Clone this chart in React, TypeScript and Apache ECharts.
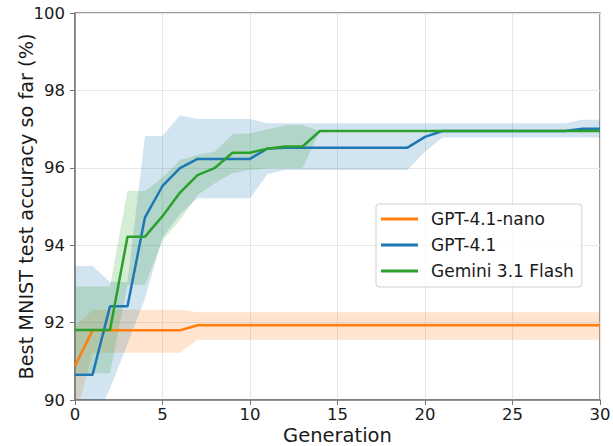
import React, { useEffect, useRef } from "react";
import * as echarts from "echarts";

const generations = Array.from({ length: 31 }, (_, i) => i);

const nanoMean = [90.88, 91.8, 91.8, 91.8, 91.8, 91.8, 91.8, 91.93, 91.93, 91.93, 91.93, 91.93, 91.93, 91.93, 91.93, 91.93, 91.93, 91.93, 91.93, 91.93, 91.93, 91.93, 91.93, 91.93, 91.93, 91.93, 91.93, 91.93, 91.93, 91.93, 91.93];
const nanoUpper = [91.9, 92.33, 92.33, 92.33, 92.33, 92.33, 92.33, 92.27, 92.27, 92.27, 92.27, 92.27, 92.27, 92.27, 92.27, 92.27, 92.27, 92.27, 92.27, 92.27, 92.27, 92.27, 92.27, 92.27, 92.27, 92.27, 92.27, 92.27, 92.27, 92.27, 92.27];
const nanoLower = [89.5, 91.22, 91.22, 91.22, 91.22, 91.22, 91.22, 91.56, 91.56, 91.56, 91.56, 91.56, 91.56, 91.56, 91.56, 91.56, 91.56, 91.56, 91.56, 91.56, 91.56, 91.56, 91.56, 91.56, 91.56, 91.56, 91.56, 91.56, 91.56, 91.56, 91.56];

const gpt41Mean = [90.65, 90.65, 92.42, 92.42, 94.72, 95.53, 95.99, 96.23, 96.23, 96.23, 96.23, 96.5, 96.52, 96.52, 96.52, 96.52, 96.52, 96.52, 96.52, 96.52, 96.8, 96.95, 96.95, 96.95, 96.95, 96.95, 96.95, 96.95, 96.95, 97.01, 97.01];
const gpt41Upper = [93.46, 93.46, 93.05, 93.05, 96.82, 96.82, 97.36, 97.26, 97.26, 97.26, 97.26, 97.15, 97.15, 97.15, 97.15, 97.15, 97.15, 97.15, 97.15, 97.15, 97.15, 97.15, 97.15, 97.15, 97.15, 97.15, 97.15, 97.15, 97.15, 97.24, 97.24];
const gpt41Lower = [88.6, 89.3, 90.3, 91.45, 92.62, 94.2, 94.8, 95.21, 95.21, 95.21, 95.21, 95.84, 95.94, 95.94, 95.94, 95.94, 95.94, 95.94, 95.94, 95.94, 96.42, 96.78, 96.78, 96.78, 96.78, 96.78, 96.78, 96.78, 96.78, 96.78, 96.78];

const geminiMean = [91.81, 91.81, 91.81, 94.22, 94.22, 94.75, 95.36, 95.81, 96.0, 96.39, 96.39, 96.49, 96.55, 96.55, 96.95, 96.95, 96.95, 96.95, 96.95, 96.95, 96.95, 96.95, 96.95, 96.95, 96.95, 96.95, 96.95, 96.95, 96.95, 96.95, 96.95];
const geminiUpper = [92.93, 92.93, 92.93, 95.41, 95.4, 95.75, 96.2, 96.33, 96.42, 96.87, 96.89, 96.99, 97.1, 97.1, 96.95, 96.95, 96.95, 96.95, 96.95, 96.95, 96.95, 96.95, 96.95, 96.95, 96.95, 96.95, 96.95, 96.95, 96.95, 96.95, 96.95];
const geminiLower = [90.69, 90.69, 90.69, 92.97, 92.97, 94.12, 94.65, 95.3, 95.6, 95.86, 95.94, 95.99, 95.99, 95.99, 96.95, 96.95, 96.95, 96.95, 96.95, 96.95, 96.95, 96.95, 96.95, 96.95, 96.95, 96.95, 96.95, 96.95, 96.95, 96.95, 96.95];

const seriesNames = ["GPT-4.1-nano", "GPT-4.1", "Gemini 3.1 Flash"];
const colors = ["#ff7f0e", "#1f77b4", "#2ca02c"];

const FONT = "DejaVu Sans";

function pairs(ys: number[]) {
  return ys.map((y, i) => [generations[i], y]);
}

function band(lower: number[], upper: number[], color: string) {
  return {
    type: "custom",
    silent: true,
    z: 1,
    data: generations.map((g, i) => [g, lower[i], upper[i]]),
    renderItem: (params: any, api: any) => {
      if (params.dataIndex !== 0) return null;
      const pts: number[][] = [];
      for (let i = 0; i < generations.length; i++) pts.push(api.coord([generations[i], upper[i]]));
      for (let i = generations.length - 1; i >= 0; i--) pts.push(api.coord([generations[i], lower[i]]));
      const cs = params.coordSys;
      return {
        type: "polygon",
        shape: { points: pts },
        style: { fill: color, opacity: 0.2 },
        clipPath: { type: "rect", shape: { x: cs.x, y: cs.y, width: cs.width, height: cs.height } },
      };
    },
  };
}

function meanLine(name: string, ys: number[], color: string) {
  return {
    name,
    type: "line",
    data: pairs(ys),
    symbol: "none",
    color,
    lineStyle: { color, width: 2.5 },
    z: 3,
  };
}

export default function App() {
  const ref = useRef<HTMLDivElement>(null);
  useEffect(() => {
    if (!ref.current) return;
    const chart = echarts.init(ref.current, undefined, { renderer: "svg" });
    const axisColor = "#777";
    chart.setOption({
      animation: false,
      backgroundColor: "#fff",
      textStyle: { fontFamily: FONT },
      grid: {
        left: 75,
        right: 13,
        top: 13,
        bottom: 46,
        show: true,
        borderColor: axisColor,
        borderWidth: 1.5,
        containLabel: false,
        outerBoundsMode: "none",
      },
      legend: {
        data: seriesNames,
        orient: "vertical",
        left: 376,
        top: 204,
        icon: "rect",
        itemWidth: 37,
        itemHeight: 3,
        itemGap: 8,
        padding: [6, 8, 7, 5],
        borderColor: "#d0d0d0",
        borderWidth: 1,
        borderRadius: 3,
        backgroundColor: "rgba(255,255,255,0.8)",
        textStyle: {
          fontFamily: FONT,
          fontSize: 17,
          color: "#1a1a1a",
          lineHeight: 18,
          padding: [0, 0, 0, 8],
        },
      },
      xAxis: {
        type: "value",
        min: 0,
        max: 30,
        interval: 5,
        name: "Generation",
        nameLocation: "middle",
        nameGap: 25,
        nameMoveOverlap: false,
        nameTextStyle: { fontFamily: FONT, fontSize: 19.5, color: "#1a1a1a", verticalAlign: "top", lineHeight: 20 },
        axisLine: { lineStyle: { color: axisColor, width: 1.5 } },
        axisTick: { length: 5, lineStyle: { color: axisColor } },
        axisLabel: { fontFamily: FONT, fontSize: 16.5, color: "#1a1a1a", margin: 6, lineHeight: 17 },
        splitLine: { show: true, lineStyle: { color: "#e6e6e6", width: 1 } },
      },
      yAxis: {
        type: "value",
        min: 90,
        max: 100,
        interval: 2,
        name: "Best MNIST test accuracy so far (%)",
        nameLocation: "middle",
        nameGap: 39,
        nameMoveOverlap: false,
        nameTextStyle: { fontFamily: FONT, fontSize: 19.3, color: "#1a1a1a" },
        axisLine: { lineStyle: { color: axisColor, width: 1.5 } },
        axisTick: { length: 5, lineStyle: { color: axisColor } },
        axisLabel: { fontFamily: FONT, fontSize: 16.5, color: "#1a1a1a", margin: 10 },
        splitLine: { show: true, lineStyle: { color: "#e6e6e6", width: 1 } },
      },
      series: [
        band(nanoLower, nanoUpper, colors[0]),
        band(gpt41Lower, gpt41Upper, colors[1]),
        band(geminiLower, geminiUpper, colors[2]),
        meanLine(seriesNames[0], nanoMean, colors[0]),
        meanLine(seriesNames[1], gpt41Mean, colors[1]),
        meanLine(seriesNames[2], geminiMean, colors[2]),
      ],
    });
    return () => chart.dispose();
  }, []);
  return (
    <div
      ref={ref}
      style={{ position: "fixed", left: 0, top: 0, width: 613, height: 446 }}
    />
  );
}
